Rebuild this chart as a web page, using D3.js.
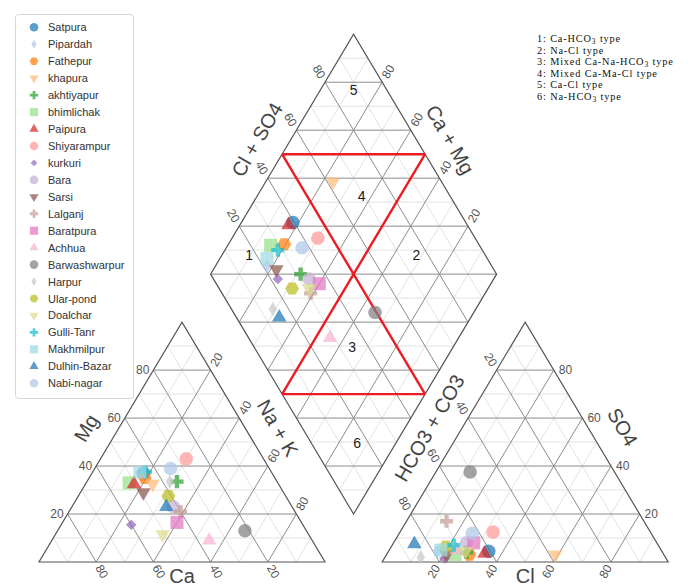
<!DOCTYPE html>
<html>
<head>
<meta charset="utf-8">
<script src="https://cdn.jsdelivr.net/npm/d3@7"></script>
<style>
  body { margin: 0; background: #fff; }
  svg { display: block; }
</style>
</head>
<body>
<svg id="chart" width="694" height="586"></svg>
<script>
// ---- Sample data (percent of meq/L) ----
const samples = ["Satpura", "Pipardah", "Fathepur", "khapura", "akhtiyapur", "bhimlichak",
  "Paipura", "Shiyarampur", "kurkuri", "Bara", "Sarsi", "Lalganj", "Baratpura", "Achhua",
  "Barwashwarpur", "Harpur", "Ular-pond", "Doalchar", "Gulli-Tanr", "Makhmilpur",
  "Dulhin-Bazar", "Nabi-nagar"];

// cations
const ca  = [45, 46, 45.5, 44, 35, 52, 50.5, 27, 60, 41.5, 49, 40, 43.5, 36, 21.5, 37.5, 41, 51, 44, 46, 44, 34.5];
const mg  = [37, 36, 35, 32.5, 33.5, 33, 32.5, 43, 15.5, 23, 29, 21, 16.5, 9, 13, 33.5, 27.5, 11.5, 37.5, 37.5, 23, 39];
const nak = [18, 18, 19.5, 23.5, 31.5, 15, 17, 30, 24.5, 35.5, 22, 39, 40, 55, 65.5, 29, 31.5, 37.5, 18.5, 16.5, 33, 26.5];

// anions
const cl   = [35, 17, 29, 59, 27.5, 24, 34, 32.5, 21, 25.5, 21, 14, 28, 23.5, 12, 12.5, 19, 27, 21.5, 18, 7.5, 25.5];
const so4  = [4.5, 4.5, 3, 3, 4, 3, 3.5, 12.5, 1.5, 8, 3, 17, 8, 5, 37.5, 2, 6.5, 4.5, 7, 5, 7.5, 12];
const hco3 = [60.5, 78.5, 68, 38, 68.5, 73, 62.5, 55, 77.5, 66.5, 76, 69, 64, 71.5, 50.5, 85.5, 74.5, 68.5, 71.5, 77, 85, 62.5];

const tickValues = [20, 40, 60, 80];
const fieldNames = ["1", "2", "3", "4", "5", "6"];
const fieldTypes = [
  ["1: Ca-HCO", "3", " type"],
  ["2: Na-Cl type"],
  ["3: Mixed Ca-Na-HCO", "3", " type"],
  ["4: Mixed Ca-Ma-Cl type"],
  ["5: Ca-Cl type"],
  ["6: Na-HCO", "3", " type"]
];
// hydrochemical field label anchors, in diamond coordinates (Cl+SO4, Ca+Mg)
const fieldAnion  = [0.174, 0.76, 0.343, 0.69, 0.884, 0.16];
const fieldCation = [0.905, 0.32, 0.353, 0.634, 0.884, 0.136];

const palette = ["#1f77b4", "#aec7e8", "#ff7f0e", "#ffbb78", "#2ca02c", "#98df8a", "#d62728",
  "#ff9896", "#9467bd", "#c5b0d5", "#8c564b", "#c49c94", "#e377c2", "#f7b6d2", "#7f7f7f",
  "#c7c7c7", "#bcbd22", "#dbdb8d", "#17becf", "#9edae5", "#1f77b4", "#aec7e8"];
const markerKinds = ["o", "d", "h", "v", "P", "s", "^", "o", "D", "o", "v", "P", "s", "^", "o",
  "d", "h", "v", "P", "s", "^", "o"];

// ---- Geometry ----
const R3 = Math.sqrt(3) / 2;
const GAP = 0.2;
const x = d3.scaleLinear().domain([0, 2.2]).range([39, 668.2]);
const y = d3.scaleLinear().domain([0, 1]).range([562, 285]);

const cationPt = (c, m, n) => [n + 0.5 * m, R3 * m];
const anionPt = (l, s, h) => [1 + GAP + l + 0.5 * s, R3 * s];
const diamondPt = (a, c) => [1 + GAP / 2 + 0.5 * (a - c), GAP * R3 + R3 * (a + c)];
const px = p => [x(p[0]), y(p[1])];

const svg = d3.select("#chart");
svg.append("rect").attr("width", 694).attr("height", 586).attr("fill", "#fff");

const gGrid = svg.append("g");
const line = d3.line();

function seg(p, q, cls) {
  gGrid.append("path")
    .attr("d", line([px(p), px(q)]))
    .attr("fill", "none")
    .attr("stroke", cls === "major" ? "#8c8c8c" : "#e2e2e2")
    .attr("stroke-width", 1);
}

// grid: minor pass then major pass
["minor", "major"].forEach(pass => {
  for (let k = 1; k <= 9; k++) {
    const cls = k % 2 === 0 ? "major" : "minor";
    if (cls !== pass) continue;
    const t = k / 10;
    // cation triangle
    seg(cationPt(1 - t, t, 0), cationPt(0, t, 1 - t), cls);
    seg(cationPt(t, 0, 1 - t), cationPt(t, 1 - t, 0), cls);
    seg(cationPt(1 - t, 0, t), cationPt(0, 1 - t, t), cls);
    // anion triangle
    seg(anionPt(0, t, 1 - t), anionPt(1 - t, t, 0), cls);
    seg(anionPt(t, 0, 1 - t), anionPt(t, 1 - t, 0), cls);
    seg(anionPt(1 - t, 0, t), anionPt(0, 1 - t, t), cls);
    // diamond
    seg(diamondPt(t, 0), diamondPt(t, 1), cls);
    seg(diamondPt(0, t), diamondPt(1, t), cls);
  }
  for (let k = 1; k <= 19; k++) {
    const cls = k % 2 === 0 ? "major" : "minor";
    if (cls !== pass) continue;
    const s = k / 10;
    const lo = Math.max(0, s - 1), hi = Math.min(1, s);
    seg(diamondPt(lo, s - lo), diamondPt(hi, s - hi), cls);
  }
});

// outlines
function outline(pts) {
  gGrid.append("path")
    .attr("d", line(pts.map(px)) + "Z")
    .attr("fill", "none")
    .attr("stroke", "#555")
    .attr("stroke-width", 1.2);
}
outline([cationPt(1, 0, 0), cationPt(0, 0, 1), cationPt(0, 1, 0)]);
outline([anionPt(0, 0, 1), anionPt(1, 0, 0), anionPt(0, 1, 0)]);
outline([diamondPt(0, 0), diamondPt(1, 0), diamondPt(1, 1), diamondPt(0, 1)]);

// ---- hydrochemical facies boundaries ----
const gRed = svg.append("g").attr("fill", "none").attr("stroke", "#ec1c24").attr("stroke-width", 2.4);
[[diamondPt(0.5, 1), diamondPt(0.5, 0)],
 [diamondPt(1, 0.5), diamondPt(0, 0.5)],
 [diamondPt(0.5, 1), diamondPt(1, 0.5)],
 [diamondPt(0, 0.5), diamondPt(0.5, 0)]].forEach(([p, q]) => {
  gRed.append("path").attr("d", line([px(p), px(q)]));
});

// field numbers
fieldNames.forEach((n, i) => {
  const p = px(diamondPt(fieldAnion[i], fieldCation[i]));
  svg.append("text").attr("x", p[0]).attr("y", p[1])
    .attr("text-anchor", "middle").attr("dominant-baseline", "central")
    .attr("font-family", "Liberation Sans, Arial, sans-serif").attr("font-size", 14)
    .attr("fill", "#1a1a1a").text(n);
});

// ---- tick labels ----
const gLab = svg.append("g")
  .attr("font-family", "Liberation Sans, Arial, sans-serif")
  .attr("font-size", 12).attr("fill", "#555");

function label(p, dir, dist, rot, txt, anchor) {
  const q = px(p);
  const lx = q[0] + dir[0] * dist, ly = q[1] + dir[1] * dist;
  gLab.append("text")
    .attr("transform", `translate(${lx},${ly}) rotate(${rot})`)
    .attr("text-anchor", anchor || "middle")
    .attr("dominant-baseline", "central")
    .text(txt);
}
const UR = [0.5, -0.866], UL = [-0.5, -0.866], DR = [0.5, 0.866], DL = [-0.5, 0.866];

tickValues.forEach(v => {
  const t = v / 100;
  // cation triangle
  label(cationPt(1 - t, t, 0), [-1, 0], 4, 0, v, "end");          // Mg
  label(cationPt(0, 1 - t, t), UR, 12, -60, v);                  // Na + K
  label(cationPt(t, 0, 1 - t), DR, 11, 60, v);                   // Ca
  // anion triangle
  label(anionPt(0, 1 - t, t), UL, 12, 60, v);                    // HCO3 + CO3
  label(anionPt(1 - t, t, 0), [1, 0], 5, 0, v, "start");         // SO4
  label(anionPt(t, 0, 1 - t), DL, 11, -60, v);                   // Cl
  // diamond
  label(diamondPt(t, 1), UL, 12, 60, v);                         // Cl + SO4
  label(diamondPt(1, t), UR, 12, -60, v);                        // Ca + Mg
});

// ---- axis titles ----
const gTitle = svg.append("g")
  .attr("font-family", "Liberation Sans, Arial, sans-serif")
  .attr("font-size", 20).attr("fill", "#444");
function title(p, q, normal, dist, rot, txt) {
  const a = px(p), b = px(q);
  const mx = (a[0] + b[0]) / 2 + normal[0] * dist, my = (a[1] + b[1]) / 2 + normal[1] * dist;
  gTitle.append("text")
    .attr("transform", `translate(${mx},${my}) rotate(${rot})`)
    .attr("text-anchor", "middle").attr("dominant-baseline", "central")
    .text(txt);
}
const NL = [-0.866, -0.5], NR = [0.866, -0.5], ND = [0, 1];
title(cationPt(1, 0, 0), cationPt(0, 1, 0), NL, 28, -60, "Mg");
title(cationPt(0, 0, 1), cationPt(0, 1, 0), NR, 28, 60, "Na + K");
title(cationPt(1, 0, 0), cationPt(0, 0, 1), ND, 14, 0, "Ca");
title(anionPt(0, 0, 1), anionPt(0, 1, 0), NL, 28, -60, "HCO3 + CO3");
title(anionPt(1, 0, 0), anionPt(0, 1, 0), NR, 30, 60, "SO4");
title(anionPt(0, 0, 1), anionPt(1, 0, 0), ND, 14, 0, "Cl");
title(diamondPt(0, 1), diamondPt(1, 1), NL, 29, -60, "Cl + SO4");
title(diamondPt(1, 0), diamondPt(1, 1), NR, 29, 60, "Ca + Mg");

// ---- markers ----
const symbolHex = {
  draw(ctx, size) {
    const r = Math.sqrt(2 * size / (3 * Math.sqrt(3)));
    for (let i = 0; i < 6; i++) {
      const ang = i * Math.PI / 3;
      const vx = r * Math.cos(ang), vy = r * Math.sin(ang);
      if (i) ctx.lineTo(vx, vy); else ctx.moveTo(vx, vy);
    }
    ctx.closePath();
  }
};
const markerSpec = {
  "o": { type: d3.symbolCircle, area: 145, rot: 0 },
  "s": { type: d3.symbolSquare, area: 170, rot: 0 },
  "^": { type: d3.symbolTriangle, area: 92, rot: 0 },
  "v": { type: d3.symbolTriangle, area: 92, rot: 180 },
  "P": { type: d3.symbolCross, area: 95, rot: 0 },
  "D": { type: d3.symbolSquare, area: 55, rot: 45 },
  "d": { type: d3.symbolDiamond, area: 60, rot: 0 },
  "h": { type: symbolHex, area: 125, rot: 0 }
};
function drawMarker(g, kind, cx, cy, color, scale) {
  const m = markerSpec[kind];
  g.append("path")
    .attr("d", d3.symbol().type(m.type).size(m.area * scale)())
    .attr("transform", `translate(${cx},${cy}) rotate(${m.rot})`)
    .attr("fill", color).attr("fill-opacity", 0.72);
}

const gPts = svg.append("g");
samples.forEach((name, i) => {
  const c = px(cationPt(ca[i] / 100, mg[i] / 100, nak[i] / 100));
  const a = px(anionPt(cl[i] / 100, so4[i] / 100, hco3[i] / 100));
  const d = px(diamondPt((cl[i] + so4[i]) / 100, (ca[i] + mg[i]) / 100));
  [c, a, d].forEach(p => drawMarker(gPts, markerKinds[i], p[0], p[1], palette[i], 1));
});

// ---- legend ----
const gLeg = svg.append("g");
gLeg.append("rect").attr("x", 15.5).attr("y", 14.5).attr("width", 118).attr("height", 384)
  .attr("rx", 3).attr("fill", "#fff").attr("stroke", "#d6d6d6");
samples.forEach((name, i) => {
  const yy = 27.3 + i * 16.95;
  drawMarker(gLeg, markerKinds[i], 34, yy, palette[i], 0.4);
  gLeg.append("text").attr("x", 48).attr("y", yy)
    .attr("dominant-baseline", "central")
    .attr("font-family", "Liberation Sans, Arial, sans-serif").attr("font-size", 11)
    .attr("fill", "#333").text(name);
});

// ---- facies key ----
const gKey = svg.append("g")
  .attr("font-family", "Liberation Serif, Times New Roman, serif")
  .attr("font-size", 10.3).attr("letter-spacing", 0.85).attr("fill", "#111");
fieldTypes.forEach((parts, i) => {
  const t = gKey.append("text").attr("x", 537).attr("y", 42 + i * 11.6);
  parts.forEach((s, j) => {
    const sub = parts.length === 3 && j === 1;
    const ts = t.append("tspan").text(s);
    if (sub) ts.attr("font-size", 7.5).attr("dy", 1.5);
    else if (j === 2) ts.attr("dy", -1.5);
  });
});
</script>
</body>
</html>
